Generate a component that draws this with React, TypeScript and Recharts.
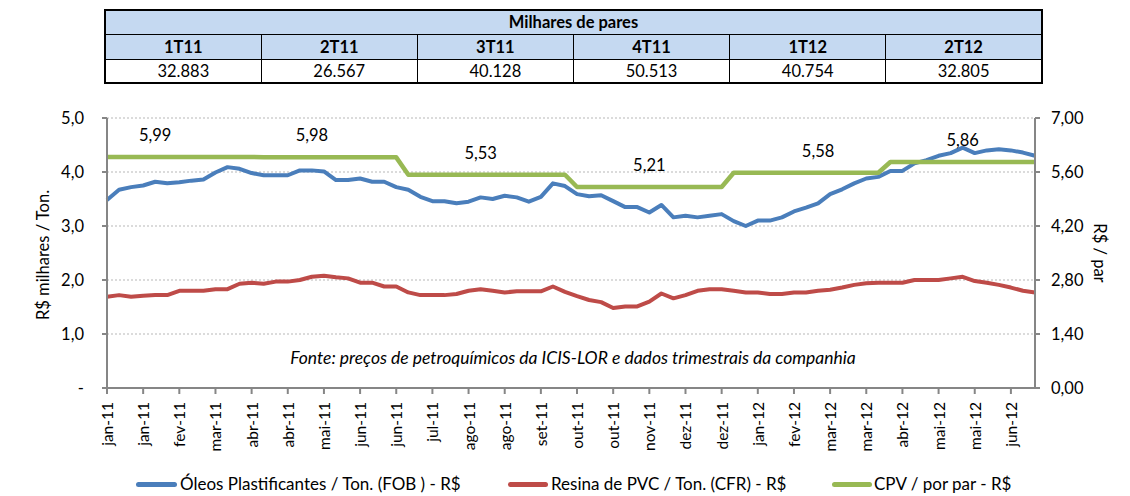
import React from 'react';
import { LineChart, Line, XAxis, YAxis, CartesianGrid, LabelList } from 'recharts';

const quarters = ['1T11', '2T11', '3T11', '4T11', '1T12', '2T12'];
const pairs = ['32.883', '26.567', '40.128', '50.513', '40.754', '32.805'];

const tickLabels = [
  'jan-11', 'jan-11', 'fev-11', 'mar-11', 'abr-11', 'abr-11', 'mai-11', 'jun-11', 'jun-11',
  'jul-11', 'ago-11', 'ago-11', 'set-11', 'out-11', 'out-11', 'nov-11', 'dez-11', 'dez-11',
  'jan-12', 'fev-12', 'mar-12', 'mar-12', 'abr-12', 'mai-12', 'mai-12', 'jun-12',
];

const oleos = [
  3.48, 3.67, 3.72, 3.75, 3.82, 3.79, 3.81, 3.84, 3.86, 3.99,
  4.09, 4.06, 3.98, 3.94, 3.94, 3.94, 4.03, 4.03, 4.01, 3.85,
  3.85, 3.88, 3.82, 3.82, 3.72, 3.67, 3.54, 3.46, 3.46, 3.42,
  3.45, 3.53, 3.50, 3.56, 3.53, 3.45, 3.54, 3.79, 3.74, 3.59,
  3.55, 3.57, 3.46, 3.35, 3.35, 3.25, 3.39, 3.16, 3.19, 3.16,
  3.19, 3.22, 3.09, 3.00, 3.10, 3.10, 3.16, 3.27, 3.34, 3.42,
  3.59, 3.68, 3.79, 3.88, 3.91, 4.02, 4.02, 4.16, 4.22, 4.30,
  4.35, 4.45, 4.35, 4.40, 4.42, 4.40, 4.36, 4.30,
];

const resina = [
  1.69, 1.72, 1.69, 1.71, 1.72, 1.72, 1.80, 1.80, 1.80, 1.83,
  1.83, 1.93, 1.95, 1.93, 1.97, 1.97, 2.00, 2.06, 2.08, 2.05,
  2.03, 1.95, 1.95, 1.88, 1.88, 1.77, 1.72, 1.72, 1.72, 1.74,
  1.80, 1.83, 1.80, 1.77, 1.79, 1.79, 1.79, 1.88, 1.78, 1.70,
  1.63, 1.59, 1.48, 1.51, 1.51, 1.60, 1.75, 1.66, 1.72, 1.80,
  1.83, 1.83, 1.80, 1.77, 1.77, 1.74, 1.74, 1.77, 1.77, 1.80,
  1.82, 1.86, 1.91, 1.94, 1.95, 1.95, 1.95, 2.00, 2.00, 2.00,
  2.03, 2.06, 1.98, 1.95, 1.91, 1.86, 1.80, 1.77,
];

const cpv = [
  5.99, 5.99, 5.99, 5.99, 5.99, 5.99, 5.99, 5.99, 5.99, 5.99,
  5.99, 5.99, 5.99, 5.98, 5.98, 5.98, 5.98, 5.98, 5.98, 5.98,
  5.98, 5.98, 5.98, 5.98, 5.98, 5.53, 5.53, 5.53, 5.53, 5.53,
  5.53, 5.53, 5.53, 5.53, 5.53, 5.53, 5.53, 5.53, 5.53, 5.21,
  5.21, 5.21, 5.21, 5.21, 5.21, 5.21, 5.21, 5.21, 5.21, 5.21,
  5.21, 5.21, 5.58, 5.58, 5.58, 5.58, 5.58, 5.58, 5.58, 5.58,
  5.58, 5.58, 5.58, 5.58, 5.58, 5.86, 5.86, 5.86, 5.86, 5.86,
  5.86, 5.86, 5.86, 5.86, 5.86, 5.86, 5.86, 5.86,
];

const cpvQuarterLabels = ['5,99', '5,98', '5,53', '5,21', '5,58', '5,86'];
const cpvLabelIdx = [4, 17, 31, 45, 59, 71];

const leftTicks = [0, 1, 2, 3, 4, 5];
const rightTicks = [0, 1.4, 2.8, 4.2, 5.6, 7];

const rows = oleos.map((v, i) => {
  const li = cpvLabelIdx.indexOf(i);
  return {
    idx: i,
    label: i % 3 === 0 ? tickLabels[i / 3] : '',
    oleos: v,
    resina: resina[i],
    cpv: cpv[i],
    cpvLabel: li >= 0 ? cpvQuarterLabels[li] : '',
  };
});

const FONT = 'Lato, "Open Sans", sans-serif';
const AXIS = '#868686';

const XTick = (props: any) => {
  const { x, y, payload } = props;
  return (
    <text
      x={x}
      y={y}
      transform={`rotate(-90 ${x} ${y})`}
      textAnchor="end"
      dominantBaseline="central"
      fontSize={15.5}
      fontFamily={FONT}
      fill="#000"
    >
      {payload.value}
    </text>
  );
};

const CpvLabel = (props: any) => {
  const { x, y, value } = props;
  if (!value) return null;
  return (
    <text x={x} y={y - 22} textAnchor="middle" dominantBaseline="central" fontSize={16.5} fontFamily={FONT} fill="#000">
      {value}
    </text>
  );
};

const cellBase: React.CSSProperties = {
  border: '1px solid #000',
  textAlign: 'center',
  padding: 0,
  fontSize: 16.5,
  lineHeight: '20px',
};

export default function App() {
  return (
    <div style={{ position: 'absolute', left: 0, top: 0, width: 1130, height: 496, overflow: 'hidden', background: '#fff', fontFamily: FONT }}>
      <table
        style={{
          position: 'absolute',
          left: 104,
          top: 9,
          width: 939,
          borderCollapse: 'collapse',
          tableLayout: 'fixed',
          border: '2px solid #000',
          fontFamily: FONT,
        }}
      >
        <tbody>
          <tr style={{ height: 24 }}>
            <td colSpan={6} style={{ ...cellBase, background: '#C5D9F1', fontWeight: 'bold' }}>Milhares de pares</td>
          </tr>
          <tr style={{ height: 25 }}>
            {quarters.map((q) => (
              <td key={q} style={{ ...cellBase, background: '#C5D9F1', fontWeight: 'bold' }}>{q}</td>
            ))}
          </tr>
          <tr style={{ height: 24 }}>
            {pairs.map((p, i) => (
              <td key={i} style={cellBase}>{p}</td>
            ))}
          </tr>
        </tbody>
      </table>

      <div style={{ position: 'absolute', left: 0, top: 0 }}>
        <LineChart width={1130} height={496} data={rows} margin={{ top: 118, right: 35, bottom: 38, left: 47 }}>
          <CartesianGrid yAxisId="left" vertical={false} stroke="#D0D0D0" strokeWidth={1.5} strokeDasharray="2 2" />
          <XAxis
            dataKey="label"
            interval={2}
            height={70}
            tickSize={6}
            tickMargin={8}
            axisLine={{ stroke: AXIS, strokeWidth: 2 }}
            tickLine={{ stroke: AXIS, strokeWidth: 2 }}
            tick={<XTick />}
          />
          <YAxis
            yAxisId="left"
            width={60}
            domain={[0, 5]}
            ticks={leftTicks}
            interval={0}
            tickSize={5}
            tickMargin={18}
            axisLine={{ stroke: AXIS, strokeWidth: 2 }}
            tickLine={{ stroke: AXIS, strokeWidth: 2 }}
            tick={{ fill: '#000', fontSize: 16.5, fontFamily: FONT }}
            tickFormatter={(v: number) => (v === 0 ? '-' : v.toFixed(1).replace('.', ','))}
          />
          <YAxis
            yAxisId="right"
            orientation="right"
            width={60}
            domain={[0, 7]}
            ticks={rightTicks}
            interval={0}
            tickSize={5}
            tickMargin={11}
            axisLine={{ stroke: AXIS, strokeWidth: 2 }}
            tickLine={{ stroke: AXIS, strokeWidth: 2 }}
            tick={{ fill: '#000', fontSize: 16.5, fontFamily: FONT, textAnchor: 'start' }}
            tickFormatter={(v: number) => v.toFixed(2).replace('.', ',')}
          />
          <Line yAxisId="left" type="linear" dataKey="oleos" stroke="#4A7EBB" strokeWidth={4} dot={false} isAnimationActive={false} strokeLinejoin="round" />
          <Line yAxisId="left" type="linear" dataKey="resina" stroke="#BE4B48" strokeWidth={4} dot={false} isAnimationActive={false} strokeLinejoin="round" />
          <Line yAxisId="right" type="linear" dataKey="cpv" stroke="#98B954" strokeWidth={4.5} dot={false} isAnimationActive={false} strokeLinejoin="round">
            <LabelList dataKey="cpvLabel" content={<CpvLabel />} />
          </Line>
        </LineChart>
      </div>

      <div
        style={{
          position: 'absolute',
          left: 573,
          top: 357,
          transform: 'translate(-50%, -50%)',
          fontStyle: 'italic',
          fontSize: 17.5,
          whiteSpace: 'nowrap',
          color: '#000',
        }}
      >
        Fonte: preços de petroquímicos da ICIS-LOR e dados trimestrais da companhia
      </div>

      <div
        style={{
          position: 'absolute',
          left: 43,
          top: 255,
          transform: 'translate(-50%, -50%) rotate(-90deg)',
          fontSize: 16.5,
          whiteSpace: 'nowrap',
          color: '#000',
        }}
      >
        R$ milhares / Ton.
      </div>
      <div
        style={{
          position: 'absolute',
          left: 1100,
          top: 253,
          transform: 'translate(-50%, -50%) rotate(90deg)',
          fontSize: 16.5,
          whiteSpace: 'nowrap',
          color: '#000',
        }}
      >
        R$ / par
      </div>

      {[
        { x: 136, w: 41, tx: 180, c: '#4A7EBB', t: 'Óleos Plastificantes / Ton. (FOB ) - R$' },
        { x: 508, w: 40, tx: 551, c: '#BE4B48', t: 'Resina de PVC / Ton. (CFR) - R$' },
        { x: 832, w: 40, tx: 874, c: '#98B954', t: 'CPV / por par - R$' },
      ].map((it) => (
        <React.Fragment key={it.t}>
          <div style={{ position: 'absolute', left: it.x, top: 482, width: it.w, height: 5, borderRadius: 2.5, background: it.c }} />
          <div style={{ position: 'absolute', left: it.tx, top: 474, fontSize: 17, lineHeight: '20px', whiteSpace: 'nowrap', color: '#000' }}>
            {it.t}
          </div>
        </React.Fragment>
      ))}
    </div>
  );
}
